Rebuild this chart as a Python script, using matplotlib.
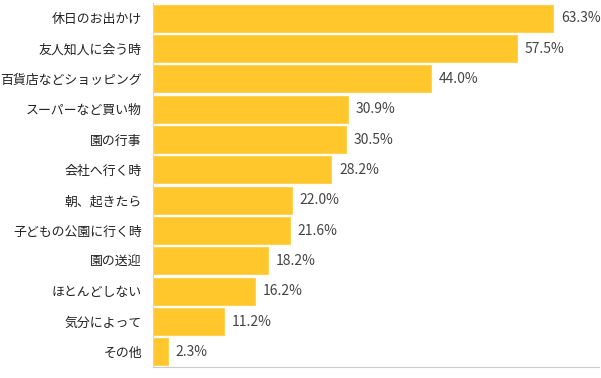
import matplotlib
matplotlib.use("Agg")
import matplotlib.pyplot as plt

plt.rcParams['font.family'] = ['Noto Sans CJK JP', 'DejaVu Sans']

categories = ['休日のお出かけ', '友人知人に会う時', '百貨店などショッピング', 'スーパーなど買い物',
              '園の行事', '会社へ行く時', '朝、起きたら', '子どもの公園に行く時',
              '園の送迎', 'ほとんどしない', '気分によって', 'その他']
values = [63.3, 57.5, 44.0, 30.9, 30.5, 28.2, 22.0, 21.6, 18.2, 16.2, 11.2, 2.3]

fig = plt.figure(figsize=(6.01, 3.78), dpi=100)
ax = fig.add_axes([153 / 601, 11 / 378, 446 / 601, 364 / 378])

ypos = list(range(len(categories)))
ax.barh(ypos, values, height=0.88, color='#FFC72C', edgecolor='#FFD24F', linewidth=0.8)

for y, v in zip(ypos, values):
    ax.text(v + 1.2, y, f'{v:.1f}%', va='center', ha='left', fontsize=10, color='#444444')

ax.set_yticks(ypos)
ax.set_yticklabels(categories, fontsize=9.3, color='#222222')
ax.set_ylim(len(categories) - 0.5, -0.5)
ax.set_xlim(0, 70.5)
ax.set_xticks([])
ax.tick_params(axis='y', length=0, pad=8)

for s in ['top', 'right']:
    ax.spines[s].set_visible(False)
ax.spines['left'].set_color('#C9D5E3')
ax.spines['bottom'].set_color('#CCCCCC')

fig.savefig('out.png', dpi=100)
